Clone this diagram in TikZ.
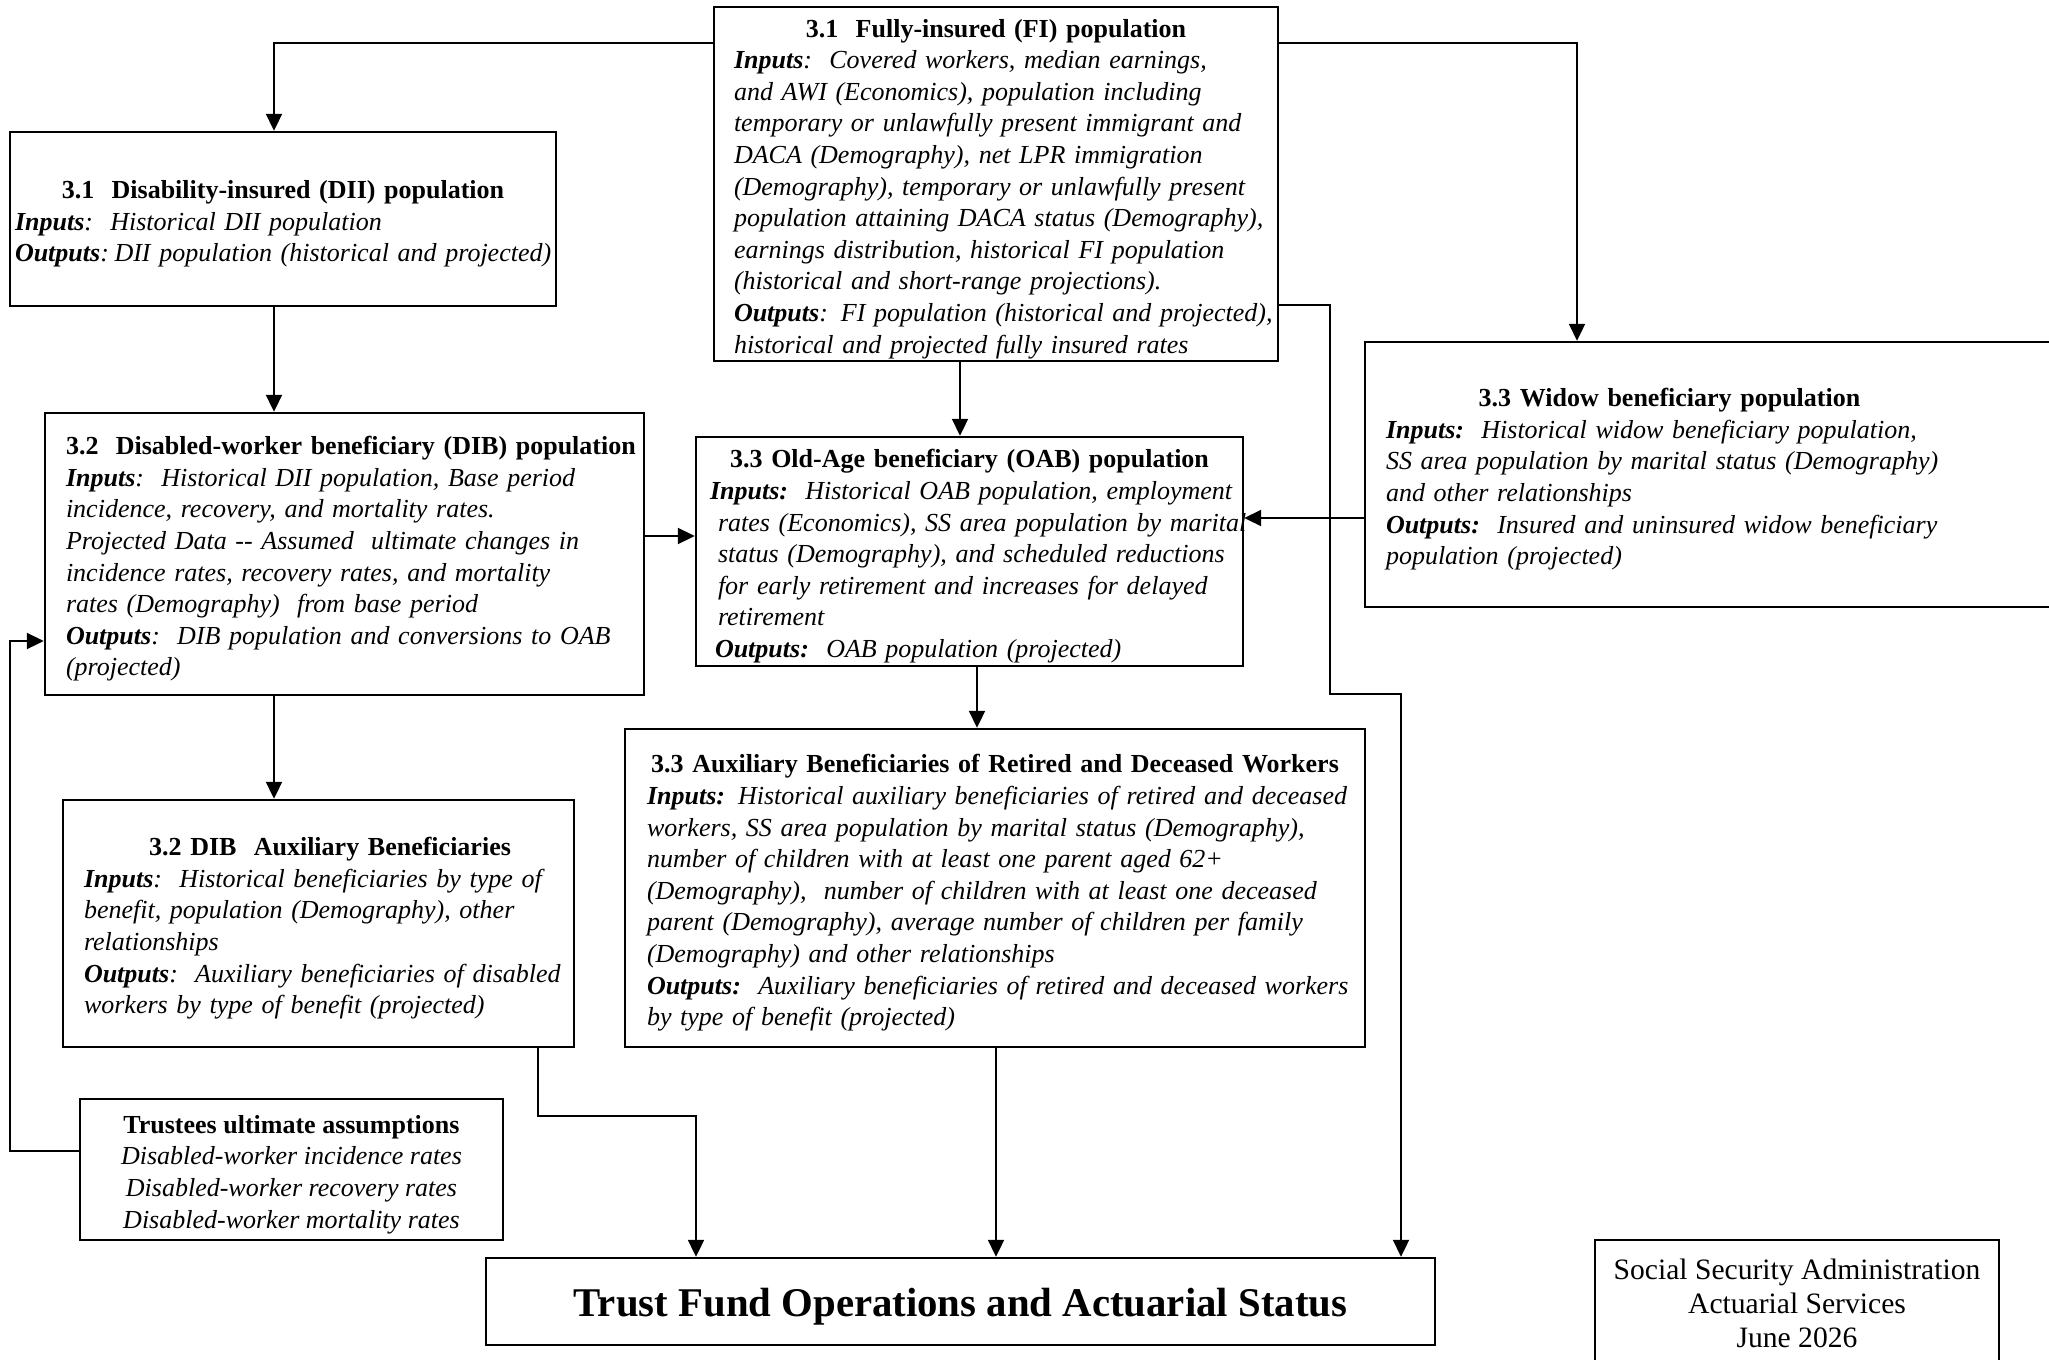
\documentclass[tikz,border=0pt]{standalone}
\usepackage{fontspec}
\setmainfont{Liberation Serif}
\usetikzlibrary{arrows.meta,calc}
\newcommand\LL[1]{\mbox{#1}}
\newcommand\TS{\rule{0pt}{14pt}}
\newcommand\Ttl[2][\linewidth]{\makebox[#1][c]{\TS\upshape\bfseries #2}}
\begin{document}
\begin{tikzpicture}[x=0.5pt,y=-0.5pt,
  box/.style={draw, line width=1.2pt, inner sep=0pt, align=left,
    font=\fontsize{13}{15.8}\selectfont\itshape},
  arr/.style={line width=1pt, -{Triangle[length=8.5pt,width=8pt]}}]
\useasboundingbox (0,0) rectangle (2049,1359);

% column / row helpers
\coordinate (cA) at (274,0);
\coordinate (cB) at (960,0);
\coordinate (cC) at (977,0);
\coordinate (cD) at (1577,0);
\coordinate (cE) at (1330,0);
\coordinate (cF) at (1401,0);
\coordinate (cG) at (538,0);
\coordinate (cH) at (696,0);
\coordinate (cI) at (996,0);
\coordinate (cJ) at (10,0);
\coordinate (rA) at (0,43);
\coordinate (rB) at (0,305);
\coordinate (rC) at (0,694);
\coordinate (rD) at (0,1116);
\coordinate (rE) at (0,1151);
\coordinate (rF) at (0,641);
\coordinate (rG) at (0,536);
\coordinate (rH) at (0,518);

\node[box, minimum width=282pt, minimum height=177pt, text width=262pt] (fi) at (996,184) {%
\Ttl{3.1\ \ Fully-insured (FI) population}\\
\LL{\textbf{Inputs}:\ \ Covered workers, median earnings,}\\
\LL{and AWI (Economics), population including}\\
\LL{temporary or unlawfully present immigrant and}\\
\LL{DACA (Demography), net LPR immigration}\\
\LL{(Demography), temporary or unlawfully present}\\
\LL{population attaining DACA status (Demography),}\\
\LL{earnings distribution, historical FI population}\\
\LL{(historical and short-range projections).}\\
\LL{\textbf{Outputs}: FI population (historical and projected),}\\
\LL{historical and projected fully insured rates}};

\node[box, minimum width=273pt, minimum height=87pt, text width=268pt] (dii) at (283,219) {%
\Ttl{3.1\ \ Disability-insured (DII) population}\\
\LL{\textbf{Inputs}:\ \ Historical DII population}\\
\LL{\textbf{Outputs}:\kern-1.5pt\ DII population (historical and projected)}};

\node[box, minimum width=299.5pt, minimum height=141pt, text width=278.5pt] (dib) at (344.5,554) {%
\LL{\TS\upshape\bfseries 3.2\ \ Disabled-worker beneficiary (DIB) population}\\
\LL{\textbf{Inputs}:\ \ Historical DII population, Base period}\\
\LL{incidence, recovery, and mortality rates.}\\
\LL{Projected Data -{}- Assumed\ \ ultimate changes in}\\
\LL{incidence rates, recovery rates, and mortality}\\
\LL{rates (Demography)\ \ from base period}\\
\LL{\textbf{Outputs}:\ \ DIB population and conversions to OAB}\\
\LL{(projected)}};

\node[box, minimum width=273.5pt, minimum height=114.5pt, text width=259.5pt] (oab) at (969.5,551.5) {%
\Ttl{3.3 Old-Age beneficiary (OAB) population}\\
\LL{\textbf{Inputs:}\ \ Historical OAB population, employment}\\
\LL{\hspace*{4pt}rates (Economics), SS area population by marital}\\
\LL{\hspace*{4pt}status (Demography), and scheduled reductions}\\
\LL{\hspace*{4pt}for early retirement and increases for delayed}\\
\LL{\hspace*{4pt}retirement}\\
\LL{\hspace*{2.5pt}\textbf{Outputs:}\ \ OAB population (projected)}};

\node[box, minimum width=347.5pt, minimum height=132.5pt, text width=326.5pt] (widow) at (1712.5,474.5) {%
\Ttl[283.5pt]{3.3 Widow beneficiary population}\\
\LL{\textbf{Inputs:}\ \ Historical widow beneficiary population,}\\
\LL{SS area population by marital status (Demography)}\\
\LL{and other relationships}\\
\LL{\textbf{Outputs:}\ \ Insured and uninsured widow beneficiary}\\
\LL{population (projected)}};

\node[box, minimum width=255.5pt, minimum height=123.5pt, text width=234.5pt] (dibaux) at (318.5,923.5) {%
\Ttl[246pt]{3.2 DIB\ \ Auxiliary Beneficiaries}\\
\LL{\textbf{Inputs}:\ \ Historical beneficiaries by type of}\\
\LL{benefit, population (Demography), other}\\
\LL{relationships}\\
\LL{\textbf{Outputs}:\ \ Auxiliary beneficiaries of disabled}\\
\LL{workers by type of benefit (projected)}};

\node[box, minimum width=370pt, minimum height=159pt, text width=348pt] (auxrd) at (995,888) {%
\Ttl{3.3 Auxiliary Beneficiaries of Retired and Deceased Workers}\\
\LL{\textbf{Inputs:} Historical auxiliary beneficiaries of retired and deceased}\\
\LL{workers, SS area population by marital status (Demography),}\\
\LL{number of children with at least one parent aged 62+}\\
\LL{(Demography),\ \ number of children with at least one deceased}\\
\LL{parent (Demography), average number of children per family}\\
\LL{(Demography) and other relationships}\\
\LL{\textbf{Outputs:}\ \ Auxiliary beneficiaries of retired and deceased workers}\\
\LL{by type of benefit (projected)}};

\node[box, align=center, minimum width=211.5pt, minimum height=70.5pt] (trustees) at (291.5,1169.5) {%
{\TS\upshape\bfseries Trustees ultimate assumptions}\\
Disabled-worker incidence rates\\
Disabled-worker recovery rates\\
Disabled-worker mortality rates};

\node[box, align=center, minimum width=474.5pt, minimum height=43.5pt,
  font=\fontsize{20.4}{24}\selectfont\bfseries] (tf) at (960.5,1301.5)
  {\rule{0pt}{19pt}Trust Fund Operations and Actuarial Status};

\node[box, align=center, minimum width=202pt, minimum height=63pt,
  font=\fontsize{14.8}{17}\selectfont] (ssa) at (1797,1303)
  {Social Security Administration\\Actuarial Services\\June 2026};

% connectors
\draw[arr] (fi.west |- rA) -| (dii.north -| cA);
\draw[arr] (fi.east |- rA) -| (widow.north -| cD);
\draw[arr] (fi.south -| cB) -- (oab.north -| cB);
\draw[arr] (fi.east |- rB) -| (cE |- rC) -| (tf.north -| cF);
\draw[arr] (dii.south -| cA) -- (dib.north -| cA);
\draw[arr] (dib.east |- rG) -- (oab.west |- rG);
\draw[arr] (widow.west |- rH) -- (oab.east |- rH);
\draw[arr] (oab.south -| cC) -- (auxrd.north -| cC);
\draw[arr] (dib.south -| cA) -- (dibaux.north -| cA);
\draw[arr] (dibaux.south -| cG) |- (cH |- rD) -- (tf.north -| cH);
\draw[arr] (auxrd.south -| cI) -- (tf.north -| cI);
\draw[arr] (trustees.west |- rE) -| (cJ |- rF) -- (dib.west |- rF);
\end{tikzpicture}
\end{document}
